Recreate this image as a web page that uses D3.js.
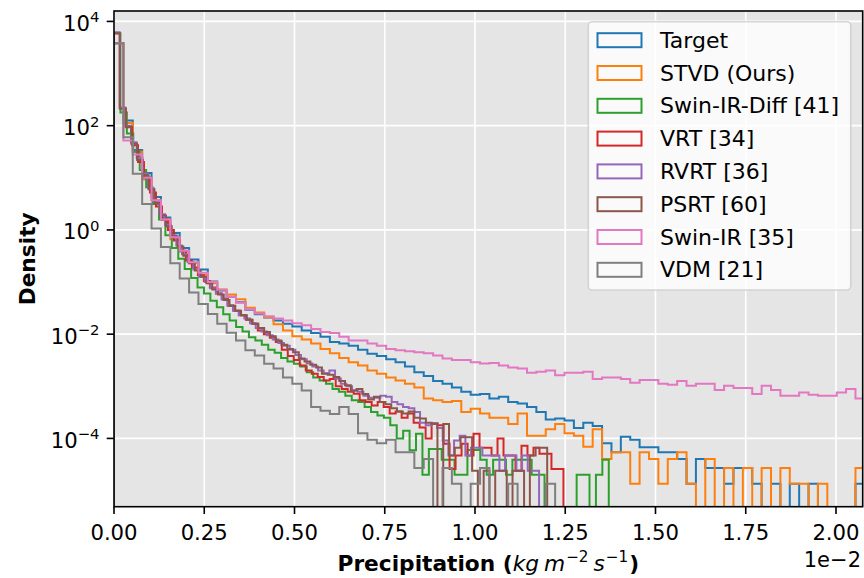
<!DOCTYPE html>
<html lang="en">
<head>
<meta charset="UTF-8">
<title>Precipitation density histogram</title>
<script src="https://d3js.org/d3.v7.min.js"></script>
<style>
  body { margin: 0; background: #fff; }
  svg { display: block; font-family: "DejaVu Sans", sans-serif; }
</style>
</head>
<body>
<svg id="chart" width="864" height="578"></svg>
<script>
// legend labels, tab10 colours, and histogram bin width (kg m^-2 s^-1) per series
const seriesNames = ["Target", "STVD (Ours)", "Swin-IR-Diff [41]", "VRT [34]", "RVRT [36]", "PSRT [60]", "Swin-IR [35]", "VDM [21]"];
const seriesColors = ["#1f77b4", "#ff7f0e", "#2ca02c", "#d62728", "#9467bd", "#8c564b", "#e377c2", "#7f7f7f"];
const binWidths = [2.6e-4, 2.6e-4, 1.78e-4, 1.66e-4, 1.57e-4, 1.6e-4, 2.6e-4, 2.6e-4];

// densities per bin (0 = empty bin)
const target = [3.8e3, 126, 34, 12.3, 4.3, 1.74, 0.87, 0.45, 0.27, 0.174,
  0.102, 0.069, 0.052, 0.041, 0.0295, 0.024, 0.0209, 0.0182, 0.0158, 0.0141,
  0.0117, 0.0105, 8.9e-3, 7.1e-3, 6.6e-3, 6.0e-3, 5.0e-3, 4.2e-3, 3.8e-3, 3.3e-3,
  2.9e-3, 2.4e-3, 1.86e-3, 1.58e-3, 1.26e-3, 1.12e-3, 9.5e-4, 7.9e-4, 6.9e-4, 7.1e-4,
  5.8e-4, 6.3e-4, 5.0e-4, 4.7e-4, 4.0e-4, 3.2e-4, 2.3e-4, 2.4e-4, 2.2e-4, 1.58e-4,
  2.0e-4, 1.74e-4, 8.1e-5, 5.4e-5, 1.08e-4, 9.45e-5, 6.75e-5, 6.75e-5, 5.4e-5, 5.4e-5,
  4.05e-5, 1.35e-5, 4.05e-5, 2.7e-5, 2.7e-5, 1.35e-5, 2.7e-5, 2.7e-5, 1.35e-5, 0,
  1.35e-5, 0, 1.35e-5, 0, 1.35e-5, 0, 0, 0, 0, 1.35e-5];
const stvd = [3.8e3, 112, 31.6, 9.3, 3.7, 1.58, 0.66, 0.38, 0.23, 0.138,
  0.095, 0.072, 0.058, 0.047, 0.032, 0.026, 0.021, 0.0155, 0.0117, 9.1e-3,
  7.9e-3, 6.6e-3, 5.2e-3, 4.3e-3, 3.5e-3, 2.9e-3, 2.5e-3, 2.0e-3, 1.74e-3, 1.48e-3,
  1.29e-3, 1.12e-3, 9.5e-4, 5.8e-4, 5.4e-4, 5.0e-4, 5.2e-4, 3.2e-4, 3.7e-4, 3.0e-4,
  2.5e-4, 2.5e-4, 1.9e-4, 3.0e-4, 1.12e-4, 1.12e-4, 1.5e-4, 1.9e-4, 1.26e-4, 1.12e-4,
  6.9e-5, 1.5e-4, 4.05e-5, 5.4e-5, 5.4e-5, 1.35e-5, 5.4e-5, 4.05e-5, 1.35e-5, 4.05e-5,
  5.4e-5, 1.35e-5, 0, 4.05e-5, 0, 2.7e-5, 0, 2.7e-5, 0, 2.7e-5,
  0, 2.7e-5, 1.35e-5, 1.35e-5, 0, 1.35e-5, 0, 0, 0, 2.7e-5];
const swinIrDiff = [5.9e3, 178, 71, 31.6, 14.1, 6.6, 3.16, 1.58, 0.79, 0.45,
  0.28, 0.178, 0.12, 0.079, 0.06, 0.044, 0.033, 0.024, 0.0182, 0.0138,
  0.0112, 8.7e-3, 7.6e-3, 6.3e-3, 5.0e-3, 4.4e-3, 3.5e-3, 3.0e-3, 2.7e-3, 2.4e-3,
  1.86e-3, 1.48e-3, 1.29e-3, 1.12e-3, 8.9e-4, 7.9e-4, 6.6e-4, 5.4e-4, 5.0e-4, 4.0e-4,
  3.2e-4, 2.75e-4, 2.5e-4, 1.78e-4, 1.0e-4, 1.41e-4, 5.9e-5, 1.23e-4, 2.0e-5, 6.3e-5,
  6.3e-5, 3.9e-5, 3.9e-5, 2.0e-5, 2.0e-5, 6.0e-5, 6.0e-5, 3.9e-5, 2.0e-5, 3.9e-5,
  3.9e-5, 2.0e-5, 3.9e-5, 3.9e-5, 3.9e-5, 2.0e-5, 2.0e-5, 0, 0, 0,
  0, 0, 2.0e-5, 2.0e-5, 0, 2.0e-5, 3.9e-5];
const vrt = [5.9e3, 214, 93, 42, 20, 10, 5.2, 2.8, 1.58, 1.0,
  0.63, 0.4, 0.26, 0.19, 0.135, 0.105, 0.079, 0.06, 0.048, 0.035,
  0.028, 0.023, 0.019, 0.0158, 0.0117, 0.01, 8.5e-3, 7.1e-3, 5.0e-3, 3.8e-3,
  3.2e-3, 2.5e-3, 2.0e-3, 1.74e-3, 1.51e-3, 1.29e-3, 1.38e-3, 1.0e-3, 8.9e-4, 7.9e-4,
  7.2e-4, 5.4e-4, 5.0e-4, 4.3e-4, 5.0e-4, 4.0e-4, 3.0e-4, 3.3e-4, 2.5e-4, 3.0e-4,
  2.0e-4, 1.62e-4, 1.0e-4, 1.95e-4, 1.78e-4, 7.9e-5, 2.6e-5, 4.7e-5, 7.9e-5, 4.7e-5,
  1.23e-4, 6.6e-5, 6.6e-5, 4.7e-5, 1.0e-4, 4.7e-5, 4.7e-5, 2.4e-5, 7.2e-5, 4.7e-5,
  6.6e-5, 5.1e-5, 5.1e-5, 2.6e-5, 2.6e-5];
const rvrt = [6.2e3, 224, 100, 48, 24, 12, 6.3, 3.5, 2.0, 1.26,
  0.79, 0.5, 0.34, 0.24, 0.174, 0.126, 0.1, 0.076, 0.06, 0.046,
  0.036, 0.028, 0.023, 0.02, 0.0162, 0.0132, 0.0112, 9.5e-3, 7.9e-3, 6.8e-3,
  6.0e-3, 5.0e-3, 4.0e-3, 3.3e-3, 2.75e-3, 2.4e-3, 2.0e-3, 1.78e-3, 2.0e-3, 1.41e-3,
  1.12e-3, 1.0e-3, 8.3e-4, 7.9e-4, 6.6e-4, 6.0e-4, 6.0e-4, 6.6e-4, 6.3e-4, 5.0e-4,
  4.5e-4, 4.0e-4, 3.8e-4, 3.2e-4, 2.0e-4, 1.78e-4, 1.95e-4, 1.58e-4, 9.1e-5, 4.7e-5,
  9.1e-5, 1.12e-4, 4.7e-5, 6.6e-5, 6.6e-5, 4.7e-5, 4.7e-5, 4.7e-5, 2.4e-5, 4.7e-5,
  4.7e-5, 2.4e-5, 4.7e-5, 2.4e-5, 2.4e-5];
const psrt = [5.9e3, 214, 95, 45, 22, 11.2, 6.0, 3.3, 1.9, 1.17,
  0.76, 0.48, 0.32, 0.23, 0.166, 0.126, 0.095, 0.072, 0.058, 0.045,
  0.035, 0.028, 0.023, 0.019, 0.0158, 0.0132, 0.011, 9.1e-3, 7.6e-3, 6.3e-3,
  5.2e-3, 4.5e-3, 3.4e-3, 3.0e-3, 2.6e-3, 2.3e-3, 1.74e-3, 1.66e-3, 1.51e-3, 1.26e-3,
  1.05e-3, 8.3e-4, 8.9e-4, 7.1e-4, 5.6e-4, 6.3e-4, 5.0e-4, 4.5e-4, 3.8e-4, 3.3e-4,
  3.0e-4, 3.3e-4, 2.5e-4, 2.4e-4, 2.0e-4, 1.9e-4, 0, 1.9e-4, 4.7e-5, 6.6e-5,
  1.05e-4, 1.05e-4, 2.4e-5, 0, 2.4e-5, 0, 2.4e-5, 2.4e-5, 0, 2.4e-5,
  2.4e-5, 0, 4.7e-5, 6.6e-5, 6.6e-5];
const swinIr = [3.8e3, 52, 28, 10, 3.7, 1.58, 0.72, 0.4, 0.24, 0.151,
  0.1, 0.071, 0.052, 0.04, 0.03, 0.025, 0.022, 0.02, 0.0182, 0.0162,
  0.0148, 0.0126, 0.011, 0.0105, 8.9e-3, 7.6e-3, 7.6e-3, 6.6e-3, 6.0e-3, 5.2e-3,
  4.9e-3, 4.7e-3, 4.5e-3, 4.3e-3, 3.9e-3, 3.4e-3, 3.2e-3, 3.2e-3, 2.9e-3, 2.75e-3,
  2.8e-3, 2.5e-3, 2.3e-3, 2.2e-3, 1.82e-3, 1.9e-3, 2.0e-3, 1.62e-3, 1.82e-3, 1.82e-3,
  1.9e-3, 1.38e-3, 1.48e-3, 1.48e-3, 1.38e-3, 1.17e-3, 1.32e-3, 1.32e-3, 1.12e-3, 1.07e-3,
  1.26e-3, 1.02e-3, 1.12e-3, 1.12e-3, 8.5e-4, 1.02e-3, 9.3e-4, 9.3e-4, 7.1e-4, 1.02e-3,
  8.5e-4, 6.6e-4, 6.6e-4, 7.6e-4, 6.9e-4, 6.6e-4, 6.6e-4, 7.6e-4, 8.9e-4, 5.8e-4];
const vdm = [3.8e3, 60, 12, 3.16, 1.07, 0.47, 0.23, 0.117, 0.063, 0.038,
  0.0245, 0.0158, 0.0107, 7.6e-3, 4.9e-3, 3.9e-3, 2.7e-3, 2.2e-3, 1.48e-3, 1.12e-3,
  8.3e-4, 4.0e-4, 3.4e-4, 2.95e-4, 4.0e-4, 2.95e-4, 1.26e-4, 9.45e-5, 8.1e-5, 9.45e-5,
  5.4e-5, 5.4e-5, 2.7e-5, 4.05e-5, 0, 2.7e-5, 1.35e-5, 0, 1.35e-5, 2.7e-5,
  0, 0, 1.35e-5, 0, 0, 0, 1.35e-5];

const seriesValues = [target, stvd, swinIrDiff, vrt, rvrt, psrt, swinIr, vdm];

const xTicks = [0, 0.0025, 0.005, 0.0075, 0.01, 0.0125, 0.015, 0.0175, 0.02];
const yTicks = [1e-4, 1e-2, 1, 1e2, 1e4];

const W = 864, H = 578;
const margin = { top: 11, right: 1.3, bottom: 71.3, left: 114 };
const plotW = W - margin.left - margin.right;
const plotH = H - margin.top - margin.bottom;

const svg = d3.select("#chart");

const x = d3.scaleLinear().domain([0, 0.02074]).range([margin.left, margin.left + plotW]);
const y = d3.scaleLog().domain([Math.pow(10, -5.31), Math.pow(10, 4.2)]).range([margin.top + plotH, margin.top]);

// axes background and grid
svg.append("rect")
  .attr("x", margin.left).attr("y", margin.top)
  .attr("width", plotW).attr("height", plotH)
  .attr("fill", "#e5e5e5");

const grid = svg.append("g");
grid.selectAll(".gx").data(xTicks).enter().append("line")
  .attr("x1", d => x(d)).attr("x2", d => x(d))
  .attr("y1", margin.top).attr("y2", margin.top + plotH)
  .attr("stroke", "#fff").attr("stroke-width", 1.6);
grid.selectAll(".gy").data(yTicks).enter().append("line")
  .attr("x1", margin.left).attr("x2", margin.left + plotW)
  .attr("y1", d => y(d)).attr("y2", d => y(d))
  .attr("stroke", "#fff").attr("stroke-width", 1.6);

svg.append("clipPath").attr("id", "plotClip")
  .append("rect")
  .attr("x", margin.left).attr("y", margin.top)
  .attr("width", plotW).attr("height", plotH);

// step outlines, like matplotlib histtype="step"
const floorY = margin.top + plotH + 12;
function stepPath(vals, w) {
  const p = d3.path();
  const yv = v => v > 0 ? y(v) : floorY;
  p.moveTo(x(0), floorY);
  vals.forEach((v, i) => {
    p.lineTo(x(i * w), yv(v));
    p.lineTo(x((i + 1) * w), yv(v));
  });
  p.lineTo(x(vals.length * w), floorY);
  return p.toString();
}

const marks = svg.append("g").attr("clip-path", "url(#plotClip)");
seriesValues.forEach((vals, i) => {
  marks.append("path")
    .attr("d", stepPath(vals, binWidths[i]))
    .attr("fill", "none")
    .attr("stroke", seriesColors[i])
    .attr("stroke-width", 2)
    .attr("stroke-linejoin", "miter");
});

// spines
svg.append("rect")
  .attr("x", margin.left).attr("y", margin.top)
  .attr("width", plotW).attr("height", plotH)
  .attr("fill", "none").attr("stroke", "#000").attr("stroke-width", 1.6);

// x ticks
const fs = 21.2;      // tick labels
const fsLab = 21.7;   // axis labels
const fsLeg = 22;     // legend
const xAxis = svg.append("g");
xTicks.forEach(t => {
  xAxis.append("line")
    .attr("x1", x(t)).attr("x2", x(t))
    .attr("y1", margin.top + plotH).attr("y2", margin.top + plotH + 7.3)
    .attr("stroke", "#000").attr("stroke-width", 1.6);
  xAxis.append("text")
    .attr("x", x(t)).attr("y", 540)
    .attr("text-anchor", "middle")
    .attr("font-size", fs)
    .attr("fill", "#000")
    .text((t * 100).toFixed(2));
});

// y ticks with 10^n labels
const yAxis = svg.append("g");
yTicks.forEach(t => {
  const e = Math.round(Math.log10(t));
  yAxis.append("line")
    .attr("x1", margin.left - 7.3).attr("x2", margin.left)
    .attr("y1", y(t)).attr("y2", y(t))
    .attr("stroke", "#000").attr("stroke-width", 1.6);
  const lab = yAxis.append("text")
    .attr("x", 99.5).attr("y", y(t) + 9.5)
    .attr("text-anchor", "end")
    .attr("font-size", fs)
    .attr("fill", "#000");
  lab.append("tspan").text("10");
  lab.append("tspan").attr("dy", -8.5).attr("font-size", fs * 0.7)
    .text(e < 0 ? "\u2212" + Math.abs(e) : String(e));
});

// axis labels
const xl = svg.append("text")
  .attr("x", margin.left + plotW / 2).attr("y", 571)
  .attr("text-anchor", "middle")
  .attr("font-size", fsLab)
  .attr("fill", "#000");
xl.append("tspan").attr("font-weight", "bold").text("Precipitation (");
xl.append("tspan").attr("font-style", "italic").text("kg");
xl.append("tspan").attr("font-style", "italic").attr("dx", 5).text("m");
xl.append("tspan").attr("font-size", fsLab * 0.7).attr("dy", -9).attr("dx", 1).text("\u22122");
xl.append("tspan").attr("font-style", "italic").attr("dx", 5).attr("dy", 9).text("s");
xl.append("tspan").attr("font-size", fsLab * 0.7).attr("dy", -9).attr("dx", 1).text("\u22121");
xl.append("tspan").attr("font-weight", "bold").attr("dy", 9).attr("dx", 1).text(")");

svg.append("text")
  .attr("transform", `translate(35,${margin.top + plotH / 2}) rotate(-90)`)
  .attr("text-anchor", "middle")
  .attr("font-size", fsLab)
  .attr("font-weight", "bold")
  .attr("fill", "#000")
  .text("Density");

svg.append("text")
  .attr("x", 861).attr("y", 567)
  .attr("text-anchor", "end")
  .attr("font-size", 21)
  .attr("fill", "#000")
  .text("1e\u22122");

// legend
const legend = svg.append("g");
legend.append("rect")
  .attr("x", 588.3).attr("y", 21.7)
  .attr("width", 262.4).attr("height", 268.3)
  .attr("rx", 4).attr("ry", 4)
  .attr("fill", "#fff").attr("fill-opacity", 0.8)
  .attr("stroke", "#cccccc").attr("stroke-opacity", 0.8).attr("stroke-width", 1.6);

seriesNames.forEach((name, i) => {
  const cy = 40.2 + i * 32.8;
  legend.append("rect")
    .attr("x", 597.5).attr("y", cy - 7)
    .attr("width", 44).attr("height", 14)
    .attr("fill", "none")
    .attr("stroke", seriesColors[i]).attr("stroke-width", 2);
  legend.append("text")
    .attr("x", 660).attr("y", cy + 7.6)
    .attr("font-size", fsLeg)
    .attr("fill", "#000")
    .text(name);
});
</script>
</body>
</html>
